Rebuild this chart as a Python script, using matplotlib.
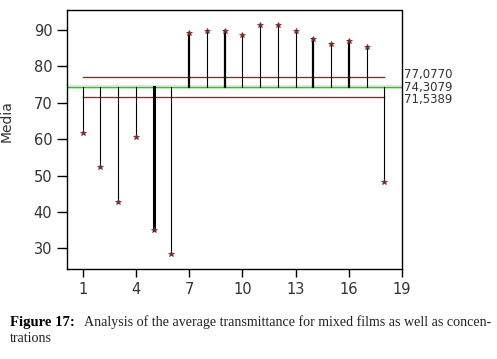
import matplotlib.pyplot as plt

# sample index and mean transmittance
samples = list(range(1, 19))
media = [61.7, 52.4, 42.6, 60.7, 34.9, 28.5, 89.1, 89.7, 89.6, 88.6,
         91.3, 91.4, 89.7, 87.5, 86.2, 87.0, 85.3, 48.3]
center = 74.3079
ucl = 77.0770
lcl = 71.5389
limit_labels = ["77,0770", "74,3079", "71,5389"]
xticks = [1, 4, 7, 10, 13, 16, 19]
yticks = [30, 40, 50, 60, 70, 80, 90]

# stem widths as they appear in the picture
stem_w = [0.8, 0.8, 0.8, 0.8, 2.2, 0.8, 1.6, 0.8, 1.6, 0.8, 0.8, 0.8, 0.8,
          1.6, 0.8, 1.6, 0.8, 0.8]

fig = plt.figure(figsize=(4.97, 3.59), dpi=100)
ax = fig.add_axes([0.1348, 0.2507, 0.6741, 0.7214])

# control limits
ax.plot([samples[0], samples[-1]], [ucl, ucl], color="#fae6e6", lw=2.2, zorder=1)
ax.plot([samples[0], samples[-1]], [lcl, lcl], color="#fae6e6", lw=2.2, zorder=1)
ax.plot([samples[0], samples[-1]], [ucl, ucl], color="#8b2a2a", lw=0.8, zorder=2)
ax.plot([samples[0], samples[-1]], [lcl, lcl], color="#8b2a2a", lw=0.8, zorder=2)
ax.axhline(center, color="#d2f2d2", lw=3, zorder=1)
ax.axhline(center, color="#3cb83c", lw=0.9, zorder=2)

# stems from the center line
for x, y, w in zip(samples, media, stem_w):
    ax.plot([x, x], [center, y], color="black", lw=w, zorder=3)
ax.plot(samples, media, ls="none", marker="*", ms=4, color="#7a2a2a",
        mew=0.5, zorder=4)

ax.set_xlim(0.12, 19)
ax.set_ylim(24.3, 95.5)
ax.set_xticks(xticks)
ax.set_yticks(yticks)
ax.tick_params(axis="y", length=7, width=1, labelsize=10.5, labelcolor="#333333")
ax.tick_params(axis="x", length=6, width=1, labelsize=10.5, labelcolor="#333333")
for s in ["top", "right"]:
    ax.spines[s].set_visible(False)
ax.spines["left"].set_linewidth(1)
ax.spines["bottom"].set_linewidth(1)
ax.plot([0.12, 19, 19], [95.5, 95.5, 24.3], color="black", lw=1,
        clip_on=False, zorder=5)

ax.set_ylabel("Media", fontsize=10, color="#333333")
ax.yaxis.set_label_coords(-0.16, 0.57)

# limit values at the right
for val, lab in zip([ucl + 0.6, center, lcl - 0.6], limit_labels):
    ax.text(19.1, val, lab, fontsize=8.5, color="#333333",
            ha="left", va="center", clip_on=False)

# caption
fig.text(0.02, 0.092, "Figure 17:", fontsize=10.6, fontweight="bold",
         family="Liberation Serif", color="black", va="baseline")
fig.text(0.169, 0.092,
         "Analysis of the average transmittance for mixed films as well as concen-",
         fontsize=10.1, family="Liberation Serif", color="#222222", va="baseline")
fig.text(0.02, 0.047, "trations", fontsize=10.1, family="Liberation Serif",
         color="#222222", va="baseline")

plt.savefig("out.png", dpi=100)
